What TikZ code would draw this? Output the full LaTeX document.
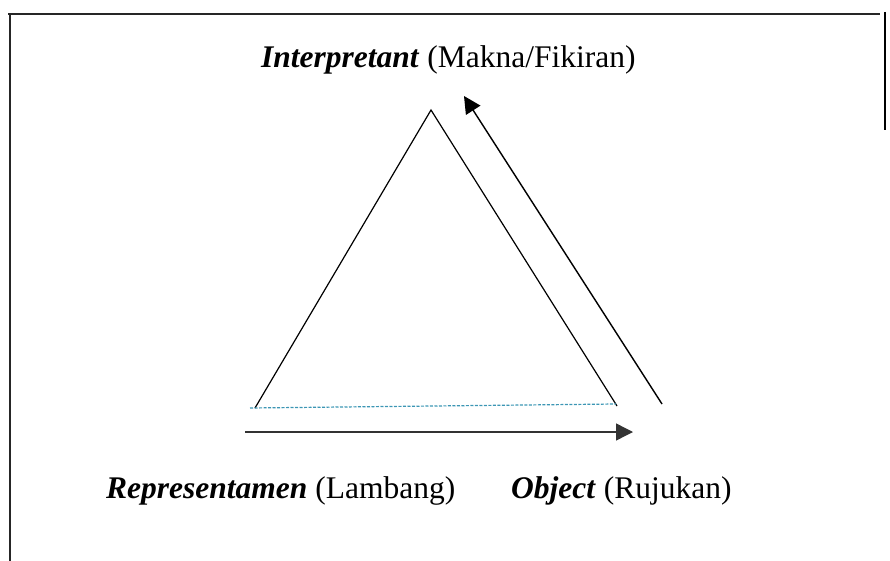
\documentclass[tikz,border=0pt]{standalone}
\usepackage{fontspec}
\setmainfont{Liberation Serif}
\usetikzlibrary{arrows.meta}
\definecolor{teal1}{RGB}{60,150,180}
\tikzset{
  frame/.style={line width=1.4pt, black!85},
  tri/.style={line width=1.2pt, black},
  arr/.style={line width=1.4pt, black!80, -{Triangle[length=17pt,width=17pt]}},
  lab/.style={font=\fontsize{31.5}{34}\selectfont, inner sep=0pt, anchor=west},
}
\begin{document}
\begin{tikzpicture}[x=1pt,y=-1pt]
\useasboundingbox (0,0) rectangle (890,561);
% frame
\coordinate (f1) at (8,14);
\coordinate (f2) at (880,14);
\coordinate (f3) at (10,15);
\coordinate (f4) at (10,561);
\coordinate (f5) at (885,12);
\coordinate (f6) at (885,130);
\draw[frame] (f1) -- (f2);
\draw[frame] (f3) -- (f4);
\draw[frame, black] (f5) -- (f6);
% triangle
\coordinate (A) at (431,110);
\coordinate (L) at (255,408);
\coordinate (R) at (617,406);
\draw[tri] (L) -- (A) -- (R);
\coordinate (d1) at (250,408);
\coordinate (d2) at (616,404);
\draw[teal1, line width=1.2pt, dash pattern=on 3pt off 1.5pt] (d1) -- (d2);
% arrows
\coordinate (h1) at (245,432);
\coordinate (h2) at (633,432);
\draw[arr] (h1) -- (h2);
\coordinate (u1) at (662,404);
\coordinate (u2) at (464,96);
\draw[arr, black] (u1) -- (u2);
% labels
\node[lab] (interp) at (261,60) {\textbf{\textit{Interpretant}} (Makna/Fikiran)};
\node[lab] (repr) at (106,491) {\textbf{\textit{Representamen}} (Lambang)};
\node[lab] (obj) at (511,491) {\textbf{\textit{Object}} (Rujukan)};
\end{tikzpicture}
\end{document}
